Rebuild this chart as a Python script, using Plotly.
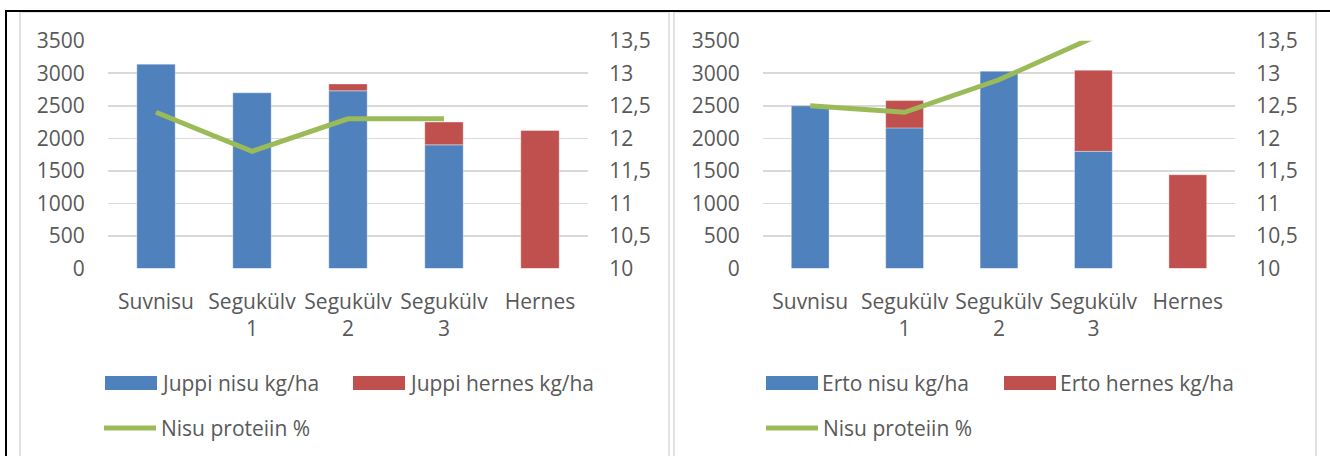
import plotly.graph_objects as go

# ---------------- data ----------------
categories = ["Suvnisu", "Segukülv<br>1", "Segukülv<br>2", "Segukülv<br>3", "Hernes"]

juppi_nisu = [3140, 2700, 2730, 1900, None]
juppi_hernes = [None, None, 105, 350, 2120]
juppi_protein = [12.4, 11.8, 12.3, 12.3, None]

erto_nisu = [2500, 2160, 3030, 1800, None]
erto_hernes = [None, 420, None, 1245, 1440]
erto_protein = [12.5, 12.4, 12.9, 13.55, None]

left_names = ["Juppi nisu kg/ha", "Juppi hernes kg/ha", "Nisu proteiin %"]
right_names = ["Erto nisu kg/ha", "Erto hernes kg/ha", "Nisu proteiin %"]

y_ticks = [0, 500, 1000, 1500, 2000, 2500, 3000, 3500]
y2_ticks = [10, 10.5, 11, 11.5, 12, 12.5, 13, 13.5]
y2_labels = ["10", "10,5", "11", "11,5", "12", "12,5", "13", "13,5"]

# ---------------- style ----------------
W, H = 1330, 456
BLUE = "#4F81BD"
RED = "#C0504D"
GREEN = "#9BBB59"
GRID = "#D9D9D9"
TXT = "#595959"
FONT = "Open Sans"
FS = 21


def px_x(p):
    return p / W


def px_y(p):
    return 1 - p / H


ydom = [px_y(268.5), px_y(40.7)]
left_dom = [px_x(108), px_x(588)]
right_dom = [px_x(763), px_x(1235)]

fig = go.Figure()

bar_line = dict(color="rgba(255,255,255,0.35)", width=1)

# left chart
fig.add_trace(go.Bar(x=categories, y=juppi_nisu, name=left_names[0], marker=dict(color=BLUE, line=bar_line),
                     xaxis="x", yaxis="y", showlegend=False, hoverinfo="skip"))
fig.add_trace(go.Bar(x=categories, y=juppi_hernes, name=left_names[1], marker=dict(color=RED, line=bar_line),
                     xaxis="x", yaxis="y", showlegend=False, hoverinfo="skip"))
fig.add_trace(go.Scatter(x=categories, y=juppi_protein, name=left_names[2], mode="lines",
                         line=dict(color=GREEN, width=5), xaxis="x", yaxis="y2", showlegend=False,
                         hoverinfo="skip"))

# right chart
fig.add_trace(go.Bar(x=categories, y=erto_nisu, name=right_names[0], marker=dict(color=BLUE, line=bar_line),
                     xaxis="x2", yaxis="y3", showlegend=False, hoverinfo="skip"))
fig.add_trace(go.Bar(x=categories, y=erto_hernes, name=right_names[1], marker=dict(color=RED, line=bar_line),
                     xaxis="x2", yaxis="y3", showlegend=False, hoverinfo="skip"))
fig.add_trace(go.Scatter(x=categories, y=erto_protein, name=right_names[2], mode="lines",
                         line=dict(color=GREEN, width=5), xaxis="x2", yaxis="y4", showlegend=False,
                         hoverinfo="skip"))

tickfont = dict(family=FONT, size=FS, color=TXT)

xa = dict(type="category", showgrid=False, showline=False, zeroline=False, tickfont=tickfont,
          ticks="outside", ticklen=14, tickcolor="rgba(0,0,0,0)", fixedrange=True, automargin=False)
ya = dict(range=[0, 3500], tickvals=y_ticks, showgrid=True, gridcolor=GRID, gridwidth=1.5,
          zeroline=False, showline=False, tickfont=tickfont, ticks="outside", ticklen=18,
          tickcolor="rgba(0,0,0,0)", domain=ydom, automargin=False, fixedrange=True)
ya2 = dict(range=[10, 13.5], tickvals=y2_ticks, ticktext=y2_labels, showgrid=False, zeroline=False,
           showline=False, tickfont=tickfont, side="right", ticks="outside", ticklen=16,
           tickcolor="rgba(0,0,0,0)", automargin=False, fixedrange=True)

fig.update_layout(
    width=W, height=H, autosize=False,
    margin=dict(l=0, r=0, t=0, b=0, pad=0, autoexpand=False),
    paper_bgcolor="white", plot_bgcolor="white",
    barmode="relative", bargap=0.6,
    showlegend=False,
    hovermode=False,
    xaxis=dict(xa, domain=left_dom, anchor="y"),
    yaxis=dict(ya, anchor="x"),
    yaxis2=dict(ya2, overlaying="y", anchor="x"),
    xaxis2=dict(xa, domain=right_dom, anchor="y3"),
    yaxis3=dict(ya, anchor="x2"),
    yaxis4=dict(ya2, overlaying="y3", anchor="x2"),
)

shapes = []
annotations = []

# chart area borders (light grey) and outer black frame
for x0, x1 in [(20, 669), (674, 1316)]:
    shapes.append(dict(type="rect", xref="paper", yref="paper", x0=px_x(x0), x1=px_x(x1),
                       y0=px_y(470), y1=px_y(12), line=dict(color=GRID, width=1.5)))
shapes.append(dict(type="line", xref="paper", yref="paper", x0=px_x(5), x1=px_x(1330),
                   y0=px_y(11), y1=px_y(11), line=dict(color="black", width=2)))
shapes.append(dict(type="line", xref="paper", yref="paper", x0=px_x(6), x1=px_x(6),
                   y0=px_y(11), y1=px_y(460), line=dict(color="black", width=2)))


def legend(names, blue_x, red_x, green_x):
    shapes.append(dict(type="rect", xref="paper", yref="paper", x0=px_x(blue_x), x1=px_x(blue_x + 52),
                       y0=px_y(390), y1=px_y(376), fillcolor=BLUE, line=dict(width=0)))
    annotations.append(dict(xref="paper", yref="paper", x=px_x(blue_x + 54), y=px_y(383), text=names[0],
                            showarrow=False, xanchor="left", yanchor="middle", font=tickfont))
    shapes.append(dict(type="rect", xref="paper", yref="paper", x0=px_x(red_x), x1=px_x(red_x + 52),
                       y0=px_y(390), y1=px_y(376), fillcolor=RED, line=dict(width=0)))
    annotations.append(dict(xref="paper", yref="paper", x=px_x(red_x + 54), y=px_y(383), text=names[1],
                            showarrow=False, xanchor="left", yanchor="middle", font=tickfont))
    shapes.append(dict(type="line", xref="paper", yref="paper", x0=px_x(green_x + 2), x1=px_x(green_x + 54),
                       y0=px_y(428), y1=px_y(428), line=dict(color=GREEN, width=5)))
    annotations.append(dict(xref="paper", yref="paper", x=px_x(green_x + 57), y=px_y(428), text=names[2],
                            showarrow=False, xanchor="left", yanchor="middle", font=tickfont))


legend(left_names, 105, 353, 102)
legend(right_names, 766, 1004, 764)

fig.update_layout(shapes=shapes, annotations=annotations)

post = (
    "document.documentElement.style.margin='0';"
    "document.body.style.margin='0';document.body.style.padding='0';"
    "document.body.style.overflow='hidden';"
    "var d=document.getElementById('{plot_id}');"
    "d.style.position='fixed';d.style.left='0px';d.style.top='0px';"
)

fig.write_html("out.html", post_script=post,
               config={"responsive": False, "displayModeBar": False, "staticPlot": True})
